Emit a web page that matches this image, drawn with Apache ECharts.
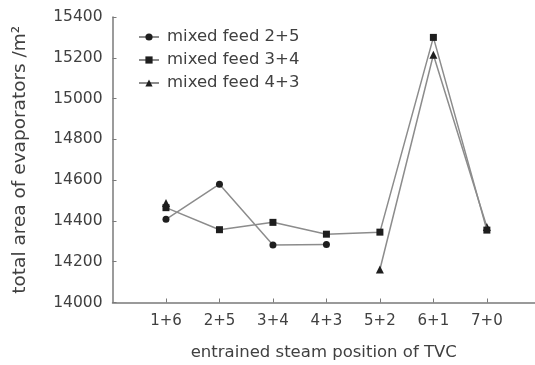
<!DOCTYPE html>
<html>
<head>
<meta charset="utf-8">
<style>html,body{margin:0;padding:0;background:#fff;}#c{width:535px;height:365px;}</style>
<script src="https://cdn.jsdelivr.net/npm/echarts@6/dist/echarts.min.js"></script>
</head>
<body>
<div id="c"></div>
<script>
const categories = ['1+6', '2+5', '3+4', '4+3', '5+2', '6+1', '7+0'];
const seriesNames = ['mixed feed 2+5', 'mixed feed 3+4', 'mixed feed 4+3'];
const feed25 = [14408, 14580, 14282, 14285, null, null, null];
const feed34 = [14465, 14357, 14393, 14335, 14345, 15300, 14355];
const feed43 = [14488, null, null, null, 14162, 15215, 14370];
const yTicks = [14000, 14200, 14400, 14600, 14800, 15000, 15200, 15400];

const FONT = 'DejaVu Sans';
const TXT = '#404040';
const AX = '#7a7a7a';
const LINE = '#8c8c8c';
const MARK = '#1e1e1e';
const symbols = ['circle', 'rect', 'triangle'];
const values = [feed25, feed34, feed43];

function pairs(arr) { return arr.map((v, i) => [i + 1, v]); }
const pos = categories.map((c, i) => i + 1);

const chart = echarts.init(document.getElementById('c'), null, {renderer: 'canvas'});
chart.setOption({
  animation: false,
  backgroundColor: '#fff',
  grid: {left: 112.5, right: 0, top: 17, bottom: 62.5, containLabel: false, outerBoundsMode: 'none'},
  legend: {
    orient: 'vertical', left: 133, top: 23,
    itemWidth: 20, itemHeight: 9, itemGap: 5,
    textStyle: {fontFamily: FONT, fontSize: 16.5, color: TXT, padding: [0, 0, 0, 3], lineHeight: 18},
    data: seriesNames
  },
  xAxis: {
    type: 'value', min: 0, max: 7.9, interval: 1,
    name: 'entrained steam position of TVC', nameLocation: 'middle', nameGap: 42,
    nameTextStyle: {fontFamily: FONT, fontSize: 16.5, color: TXT},
    axisLine: {show: true, lineStyle: {color: AX, width: 1.5}},
    axisTick: {show: true, inside: true, length: 4, lineStyle: {color: AX}, customValues: pos},
    axisLabel: {fontFamily: FONT, fontSize: 15, color: TXT, margin: 11, customValues: pos,
      formatter: v => categories[Math.round(v) - 1] || ''},
    splitLine: {show: false}
  },
  yAxis: {
    type: 'value', min: yTicks[0], max: yTicks[yTicks.length - 1], interval: 200,
    name: 'total area of evaporators /m²', nameLocation: 'middle', nameGap: 83,
    nameTextStyle: {fontFamily: FONT, fontSize: 18.5, color: TXT},
    axisLine: {show: true, lineStyle: {color: AX, width: 1.5}},
    axisTick: {show: true, inside: true, length: 4, lineStyle: {color: AX}},
    axisLabel: {fontFamily: FONT, fontSize: 15.5, color: TXT, margin: 10, formatter: v => String(v)},
    splitLine: {show: false}
  },
  series: seriesNames.map((n, k) => ({
    name: n, type: 'line', data: pairs(values[k]),
    symbol: symbols[k], symbolSize: k === 2 ? 8 : 7, showSymbol: true,
    lineStyle: {color: LINE, width: 1.5},
    itemStyle: {color: MARK, borderWidth: 0},
    connectNulls: false, z: 3 - k
  }))
});
</script>
</body>
</html>
